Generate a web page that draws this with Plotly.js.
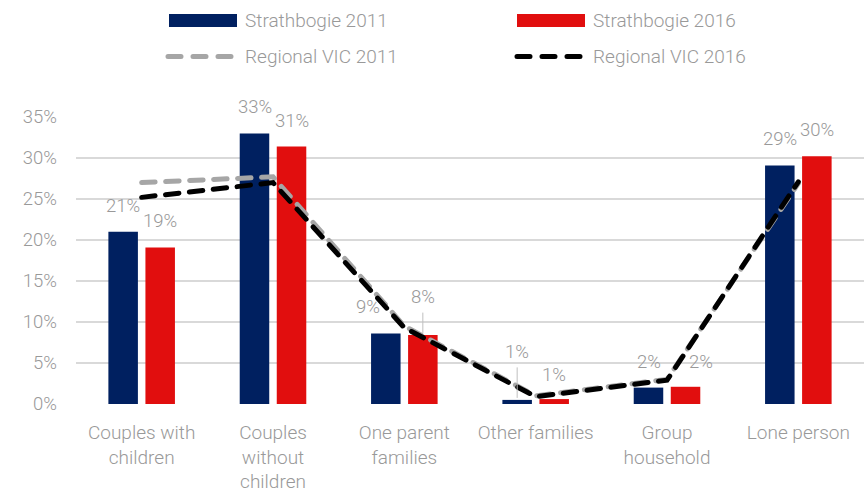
<!DOCTYPE html>
<html>
<head>
<meta charset="utf-8">
<script src="https://cdn.plot.ly/plotly-3.0.1.min.js"></script>
<style>
html,body{margin:0;padding:0;background:#fff;}
#chart{width:864px;height:498px;}
#chart .scatterlayer .js-line, #chart .shapelayer path{stroke-linecap:round !important;}
</style>
</head>
<body>
<div id="chart"></div>
<script>
// ---- data ----
const categories = ["Couples with<br>children", "Couples<br>without<br>children", "One parent<br>families", "Other families", "Group<br>household", "Lone person"];
const strathbogie2011 = [21.0, 33.0, 8.6, 0.5, 2.0, 29.1];
const strathbogie2016 = [19.1, 31.4, 8.4, 0.6, 2.1, 30.2];
const regional2011 = [27.0, 27.7, 9.5, 1.0, 3.0, 26.9];
const regional2016 = [25.2, 27.0, 9.3, 0.9, 2.9, 27.1];
const seriesNames = ["Strathbogie 2011", "Strathbogie 2016", "Regional VIC 2011", "Regional VIC 2016"];
const yTickVals = [0, 5, 10, 15, 20, 25, 30, 35];

// ---- style ----
const NAVY = "#002060", RED = "#E10E0E", GREY = "#A6A6A6", BLACK = "#000000";
const TXT = "#999999";
const FONT = "Roboto, 'Open Sans', sans-serif";
const FW = 300;
const M = {l: 76, r: 0, t: 117, b: 94};
const W = 864, H = 498;
const pw = W - M.l - M.r, ph = H - M.t - M.b;
const px2x = p => (p - M.l) / pw;
const py2y = p => (H - M.b - p) / ph;
const DASH = "13.5px,10.5px";

// label placement tweaks (pixels): [series]-[category] -> {ax, ay, leader}
const labelTweaks = {
  "0-2": {ax: -18, ay: -26},
  "1-2": {ax: 0, ay: -38, leader: true},
  "0-3": {ax: 0, ay: -48, leader: true},
  "1-3": {ax: 0, ay: -24},
  "1-4": {ax: 15, ay: -25}
};

const traces = [
  {type: "bar", x: categories, y: strathbogie2011, name: seriesNames[0], marker: {color: NAVY}, hoverinfo: "skip"},
  {type: "bar", x: categories, y: strathbogie2016, name: seriesNames[1], marker: {color: RED}, hoverinfo: "skip"},
  {type: "scatter", mode: "lines", x: categories, y: regional2011, name: seriesNames[2], line: {color: GREY, width: 5, dash: DASH}, hoverinfo: "skip"},
  {type: "scatter", mode: "lines", x: categories, y: regional2016, name: seriesNames[3], line: {color: BLACK, width: 5, dash: DASH}, hoverinfo: "skip"}
];

const annotations = [];
[strathbogie2011, strathbogie2016].forEach((vals, s) => {
  vals.forEach((v, i) => {
    const t = labelTweaks[s + "-" + i] || {ax: 0, ay: -26};
    annotations.push({
      x: categories[i], y: v, xref: "x", yref: "y",
      xshift: s === 0 ? -18.5 : 18.5,
      text: Math.round(v) + "%",
      showarrow: true, ax: t.ax, ay: t.ay,
      arrowhead: 0, arrowwidth: 1,
      arrowcolor: t.leader ? "#bfbfbf" : "rgba(0,0,0,0)",
      standoff: 2, startstandoff: 3,
      font: {family: FONT, size: 18.5, color: TXT, weight: FW}
    });
  });
});

// custom legend
const shapes = [];
const legendItems = [
  {name: seriesNames[0], kind: "bar", color: NAVY, x0: 169, x1: 237, y: 20.5, tx: 243},
  {name: seriesNames[1], kind: "bar", color: RED, x0: 517, x1: 585, y: 20.5, tx: 591},
  {name: seriesNames[2], kind: "line", color: GREY, x0: 168, x1: 231, y: 56.5, tx: 243},
  {name: seriesNames[3], kind: "line", color: BLACK, x0: 517, x1: 580, y: 56.5, tx: 591}
];
legendItems.forEach(it => {
  if (it.kind === "bar") {
    shapes.push({type: "rect", xref: "paper", yref: "paper", x0: px2x(it.x0), x1: px2x(it.x1), y0: py2y(it.y + 6.5), y1: py2y(it.y - 6.5), fillcolor: it.color, line: {width: 0}});
  } else {
    shapes.push({type: "line", xref: "paper", yref: "paper", x0: px2x(it.x0), x1: px2x(it.x1), y0: py2y(it.y), y1: py2y(it.y), line: {color: it.color, width: 5, dash: "13px,12px"}});
  }
  annotations.push({xref: "paper", yref: "paper", x: px2x(it.tx), y: py2y(it.y), xanchor: "left", yanchor: "middle", showarrow: false, text: it.name, font: {family: FONT, size: 19, color: TXT, weight: FW}});
});

const layout = {
  width: W, height: H,
  margin: M,
  paper_bgcolor: "#fff", plot_bgcolor: "#fff",
  showlegend: false,
  barmode: "group", bargap: 0.436, bargroupgap: 0.203,
  font: {family: FONT, color: TXT, size: 19, weight: FW},
  xaxis: {type: "category", showgrid: false, zeroline: false, showline: false, ticks: "",
          tickfont: {family: FONT, size: 19, color: TXT, weight: FW}, ticklabelstandoff: 15, fixedrange: true},
  yaxis: {range: [0, 35], tickvals: yTickVals, ticktext: yTickVals.map(v => v + "%"),
          showgrid: true, gridcolor: "#d9d9d9", gridwidth: 1.3, zeroline: false, showline: false, ticks: "",
          tickfont: {family: FONT, size: 18.5, color: TXT, weight: FW}, ticklabelstandoff: 18, fixedrange: true},
  annotations: annotations,
  shapes: shapes
};

Plotly.newPlot("chart", traces, layout, {displayModeBar: false, staticPlot: true}).then(gd => {
  const fix = () => document.querySelectorAll(".scatterlayer .js-line, .shapelayer path").forEach(p => {
    p.style.strokeLinecap = "round";
    p.setAttribute("stroke-linecap", "round");
  });
  fix();
  gd.on("plotly_afterplot", fix);
});
</script>
</body>
</html>
